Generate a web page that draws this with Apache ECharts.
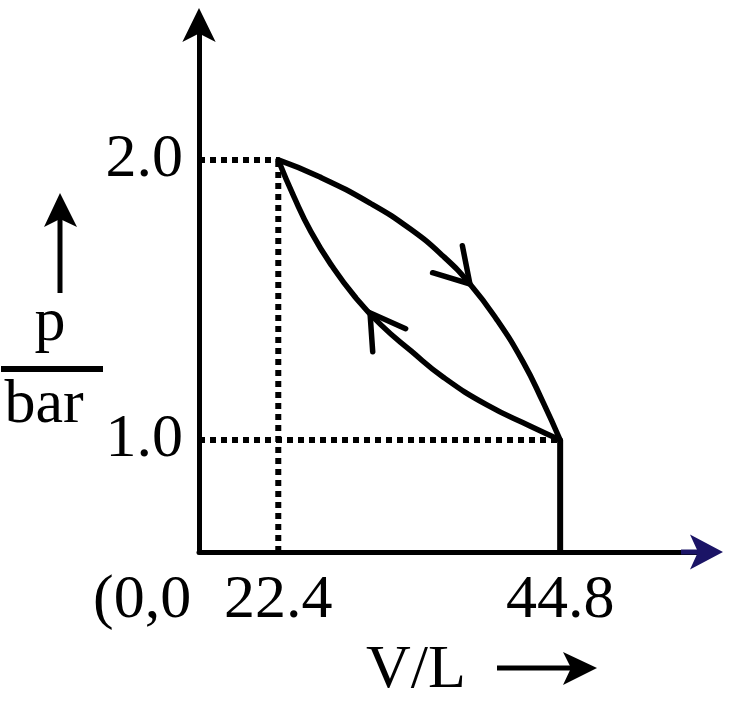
<!DOCTYPE html>
<html>
<head>
<meta charset="utf-8">
<script src="https://cdn.jsdelivr.net/npm/echarts@6/dist/echarts.min.js"></script>
<style>
html,body{margin:0;padding:0;background:#fff;}
#c{width:733px;height:715px;}
</style>
</head>
<body>
<div id="c"></div>
<script>
// ---- data ----
const xTickValues = [22.4, 44.8];
const yTickValues = [1.0, 2.0];
const originText = '(0,0';
const yTitleTop = 'p';
const yTitleBottom = 'bar';
const xTitle = 'V/L';

// expansion path (upper curve), 22.4 L / 2.0 bar -> 44.8 L / 1.0 bar
const upperV = [22.4, 25.71, 29.69, 32.87, 35.49, 37.63, 39.78, 41.85, 43.43, 44.8];
const upperP = [2.0, 1.939, 1.846, 1.754, 1.657, 1.557, 1.429, 1.279, 1.136, 1.0];
// compression path (lower curve), 44.8 L / 1.0 bar -> 22.4 L / 2.0 bar
const lowerV = [44.8, 42.40, 38.98, 35.49, 32.95, 30.56, 28.50, 26.67, 25.00, 23.65, 22.4];
const lowerP = [1.0, 1.050, 1.125, 1.225, 1.318, 1.411, 1.511, 1.621, 1.743, 1.868, 2.0];
// direction arrows: tip (V, p) and a point behind it (V, p)
const arrowTipV = [37.63, 29.69];
const arrowTipP = [1.557, 1.454];
const arrowBackV = [34.97, 31.97];
const arrowBackP = [1.689, 1.3075];

// ---- axis window (the drawing is not to scale; axes cross away from 0) ----
const X_MIN = 16.1, X_MAX = 56.39;
const Y_MIN = 0.6, Y_MAX = 2.489;

const FONT = "'Liberation Serif', 'Times New Roman', serif";
const FS = 62;
const BLACK = '#000';
const NAVY = '#1b1466';

const zip = (a, b) => a.map((v, i) => [v, b[i]]);
const dotted = { color: BLACK, width: 6, type: [6, 5], cap: 'butt' };
const curveStyle = { color: BLACK, width: 5.5, cap: 'round', join: 'round' };

const chart = echarts.init(document.getElementById('c'), null, { renderer: 'canvas' });

const option = {
  animation: false,
  backgroundColor: '#fff',
  grid: { left: 199, right: 27, top: 23, bottom: 163, containLabel: false, outerBoundsMode: 'none' },
  xAxis: {
    type: 'value', min: X_MIN, max: X_MAX,
    splitLine: { show: false },
    axisTick: { show: false },
    axisLine: { show: true, onZero: false, symbol: ['none', 'none'], lineStyle: { color: BLACK, width: 5 } },
    axisLabel: {
      customValues: xTickValues, margin: 49, verticalAlign: 'middle',
      color: BLACK, fontFamily: FONT, fontSize: FS,
      formatter: v => String(v)
    }
  },
  yAxis: {
    type: 'value', min: Y_MIN, max: Y_MAX,
    splitLine: { show: false },
    axisTick: { show: false },
    axisLine: { show: true, onZero: false, symbol: ['none', 'arrow'], symbolSize: [25, 34], symbolOffset: [0, 15],
      lineStyle: { color: BLACK, width: 5 } },
    axisLabel: {
      customValues: yTickValues, margin: 16, verticalAlign: 'middle', padding: [10, 0, 0, 0],
      color: BLACK, fontFamily: FONT, fontSize: FS,
      formatter: v => v.toFixed(1)
    }
  },
  series: [
    // dotted guide: 2.0 bar level
    { type: 'line', data: [[X_MIN, yTickValues[1]], [xTickValues[0], yTickValues[1]]], showSymbol: false, lineStyle: dotted, z: 1 },
    // dotted guide: 22.4 L
    { type: 'line', data: [[xTickValues[0], Y_MIN], [xTickValues[0], yTickValues[1]]], showSymbol: false, lineStyle: dotted, z: 1 },
    // dotted guide: 1.0 bar level
    { type: 'line', data: [[X_MIN, yTickValues[0]], [xTickValues[1], yTickValues[0]]], showSymbol: false, lineStyle: dotted, z: 1 },
    // solid drop at 44.8 L
    { type: 'line', data: [[xTickValues[1], Y_MIN], [xTickValues[1], yTickValues[0]]], showSymbol: false,
      lineStyle: { color: BLACK, width: 6, cap: 'butt' }, z: 2 },
    // upper curve
    { type: 'line', data: zip(upperV, upperP), smooth: 0.5, showSymbol: false, lineStyle: curveStyle, z: 3 },
    // lower curve
    { type: 'line', data: zip(lowerV, lowerP), smooth: 0.5, showSymbol: false, lineStyle: curveStyle, z: 3 },
    // direction chevrons
    {
      type: 'custom', z: 4,
      encode: { x: 0, y: 1 },
      data: arrowTipV.map((v, i) => [v, arrowTipP[i], arrowBackV[i], arrowBackP[i]]),
      renderItem: function (params, api) {
        const tip = api.coord([api.value(0), api.value(1)]);
        const back = api.coord([api.value(2), api.value(3)]);
        let dx = back[0] - tip[0], dy = back[1] - tip[1];
        const len = Math.hypot(dx, dy); dx /= len; dy /= len;
        const a = 31 * Math.PI / 180, L = 39;
        const rot = (x, y, t) => [x * Math.cos(t) - y * Math.sin(t), x * Math.sin(t) + y * Math.cos(t)];
        const r1 = rot(dx, dy, a), r2 = rot(dx, dy, -a);
        return {
          type: 'polyline',
          shape: { points: [[tip[0] + L * r1[0], tip[1] + L * r1[1]], tip, [tip[0] + L * r2[0], tip[1] + L * r2[1]]] },
          style: { stroke: BLACK, fill: null, lineWidth: 5.5, lineCap: 'round', lineJoin: 'miter' }
        };
      }
    }
  ]
};
chart.setOption(option);

// decorations: titles, origin text, navy arrowhead on the V axis
const ex = chart.convertToPixel({ xAxisIndex: 0 }, X_MAX);
const ey = chart.convertToPixel({ yAxisIndex: 0 }, Y_MIN);
const txt = (text, x, y, align) => ({
  type: 'text', x: x, y: y,
  style: { text: text, fill: BLACK, font: FS + 'px ' + FONT, align: align, verticalAlign: 'middle' }
});
chart.setOption({
  graphic: [
    txt(originText, 93, 601, 'left'),
    txt(yTitleTop, 50, 324, 'center'),
    txt(yTitleBottom, 44, 406, 'center'),
    { type: 'rect', shape: { x: 1, y: 366, width: 102, height: 6 }, style: { fill: BLACK } },
    { type: 'line', shape: { x1: 60, y1: 293, x2: 60, y2: 215 }, style: { stroke: BLACK, lineWidth: 5 } },
    { type: 'polygon', shape: { points: [[60, 193], [77, 227], [60, 219], [44, 227]] }, style: { fill: BLACK } },
    txt(xTitle, 416, 671, 'center'),
    { type: 'line', shape: { x1: 497, y1: 668, x2: 575, y2: 668 }, style: { stroke: BLACK, lineWidth: 5 } },
    { type: 'polygon', shape: { points: [[597, 668], [563, 652], [571, 668], [563, 685]] }, style: { fill: BLACK } },
    { type: 'rect', z: 100, shape: { x: ex - 25, y: ey - 2.5, width: 20, height: 5 }, style: { fill: NAVY } },
    { type: 'polygon', z: 100, shape: { points: [[ex + 17, ey], [ex - 16, ey - 17.5], [ex - 8, ey], [ex - 16, ey + 17.5]] }, style: { fill: NAVY } }
  ]
});
</script>
</body>
</html>
